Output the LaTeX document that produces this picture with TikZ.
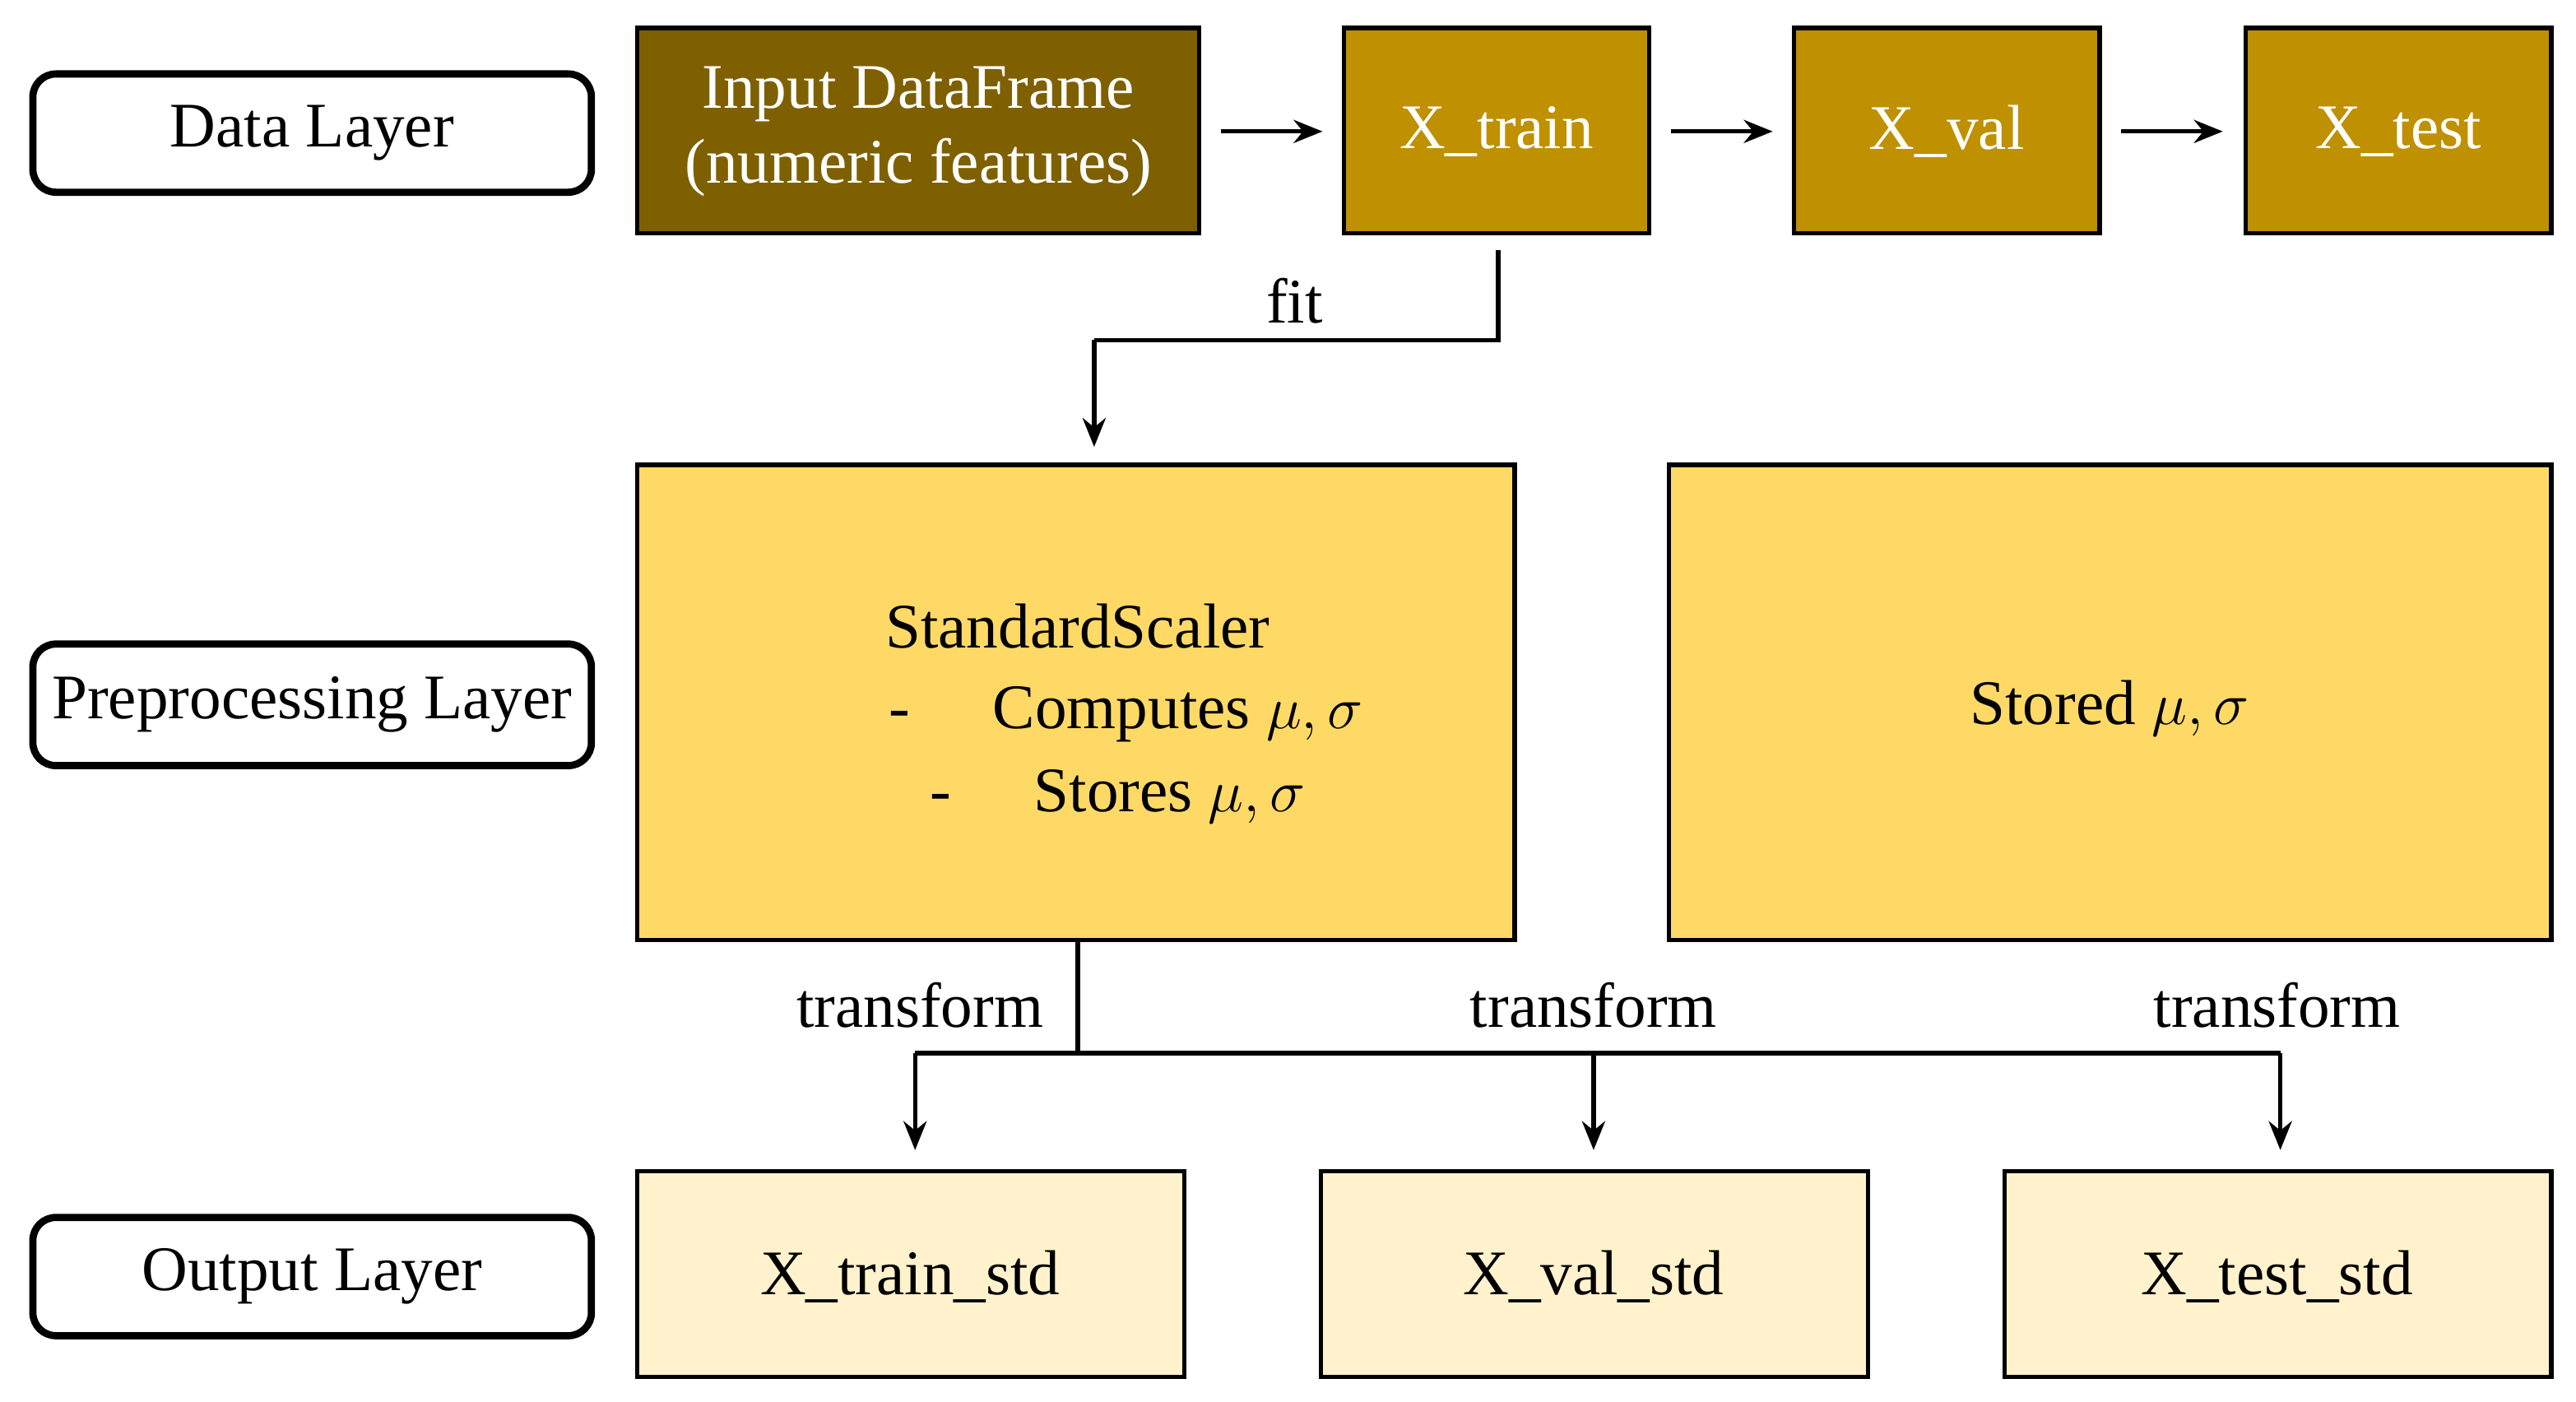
\documentclass[tikz,border=0pt]{standalone}
\usepackage{fontspec}
\setmainfont{Liberation Serif}
\usetikzlibrary{arrows.meta}
\definecolor{dark}{HTML}{7F6000}
\definecolor{mid}{HTML}{BF9000}
\definecolor{lite}{HTML}{FFD966}
\definecolor{pale}{HTML}{FFF2CC}
\begin{document}
\begin{tikzpicture}[x=0.02cm,y=-0.02cm,
  lay/.style={draw,line width=2.5pt,rounded corners=8pt},
  box/.style={draw,line width=1.5pt},
  txt/.style={font=\fontsize{22}{26}\selectfont,align=center},
  arr/.style={line width=1.5pt,-{Stealth[length=10pt,width=8pt]}},
  ln/.style={line width=1.5pt}]
\useasboundingbox (0,0) rectangle (1568,853);
\fill[white] (0,0) rectangle (1568,853);
% layers
\draw[lay] (20,45) rectangle (360,117); \node[txt] (dl) at (190,81) {Data Layer};
\draw[lay] (20,392) rectangle (360,466); \node[txt] (pl) at (190,429) {Preprocessing Layer};
\draw[lay] (20,741) rectangle (360,813); \node[txt] (ol) at (190,777) {Output Layer};
% data row
\draw[box,fill=dark] (388,17) rectangle (730,142);
\node[txt,text=white] (in) at (559,80) {Input DataFrame\\(numeric features)};
\draw[box,fill=mid] (818,17) rectangle (1004,142); \node[txt,text=white] (xt) at (911,80) {X\_train};
\draw[box,fill=mid] (1092,17) rectangle (1278,142); \node[txt,text=white] (xv) at (1185,80) {X\_val};
\draw[box,fill=mid] (1367,17) rectangle (1553,142); \node[txt,text=white] (xs) at (1460,80) {X\_test};
\coordinate (a1) at (743,80); \coordinate (b1) at (805,80);
\coordinate (a2) at (1017,80); \coordinate (b2) at (1079,80);
\coordinate (a3) at (1291,80); \coordinate (b3) at (1353,80);
\draw[arr] (a1) -- (b1); \draw[arr] (a2) -- (b2); \draw[arr] (a3) -- (b3);
% preprocessing
\draw[box,fill=lite] (388,283) rectangle (922,572);
\node[txt] (ss) at (656,381) {StandardScaler};
\node[txt,anchor=west] (c1) at (535,435) {-\hspace{1.3em}Computes $\mu,\sigma$};
\node[txt,anchor=west] (c2) at (560,485) {-\hspace{1.3em}Stores $\mu,\sigma$};
\draw[box,fill=lite] (1016,283) rectangle (1553,572);
\node[txt] (st) at (1284,431) {Stored $\mu,\sigma$};
% fit
\coordinate (f0) at (912,152); \coordinate (f1) at (912,207); \coordinate (f2) at (666,207); \coordinate (f3) at (666,272);
\draw[ln] (f0) -- (f1) -- (f2); \draw[arr] (f2) -- (f3);
\node[txt] (fit) at (788,183) {fit};
% transform
\coordinate (t0) at (656,572); \coordinate (t1) at (656,641);
\coordinate (h1) at (557,641); \coordinate (h2) at (970,641); \coordinate (h3) at (1388,641);
\draw[ln] (t0) -- (t1); \draw[ln] (h1) -- (h3);
\coordinate (e1) at (557,700); \coordinate (e2) at (970,700); \coordinate (e3) at (1388,700);
\draw[arr] (h1) -- (e1); \draw[arr] (h2) -- (e2); \draw[arr] (h3) -- (e3);
\node[txt] (tr1) at (560,612) {transform};
\node[txt] (tr2) at (970,612) {transform};
\node[txt] (tr3) at (1386,612) {transform};
% outputs
\draw[box,fill=pale] (388,713) rectangle (721,838); \node[txt] (o1) at (554,777) {X\_train\_std};
\draw[box,fill=pale] (804,713) rectangle (1137,838); \node[txt] (o2) at (970,777) {X\_val\_std};
\draw[box,fill=pale] (1220,713) rectangle (1553,838); \node[txt] (o3) at (1386,777) {X\_test\_std};
\end{tikzpicture}
\end{document}
